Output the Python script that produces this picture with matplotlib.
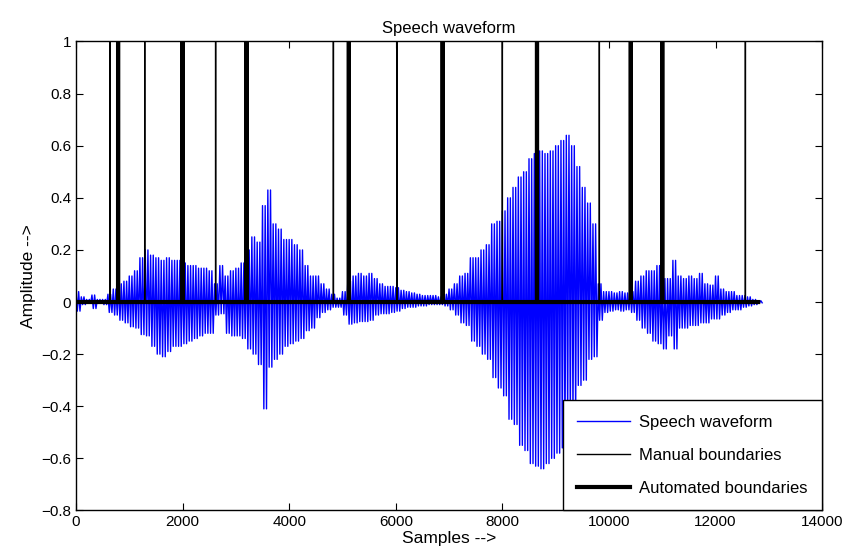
import numpy as np
import matplotlib
matplotlib.use('Agg')
import matplotlib.pyplot as plt

plt.rcParams['font.family'] = ['Liberation Sans', 'DejaVu Sans']

# peak amplitudes of the speech signal, one pair every 100 samples (0 .. 12800)
step = 100
env_hi = [0.04, 0.02, 0.01, 0.027, 0.01, 0.01, 0.03, 0.05, 0.07, 0.08,
          0.10, 0.12, 0.17, 0.20, 0.18, 0.17, 0.16, 0.17, 0.16, 0.16,
          0.15, 0.14, 0.14, 0.13, 0.13, 0.12, 0.07, 0.14, 0.10, 0.12,
          0.13, 0.15, 0.20, 0.25, 0.23, 0.37, 0.43, 0.30, 0.28, 0.24,
          0.24, 0.22, 0.20, 0.14, 0.10, 0.10, 0.07, 0.05, 0.03, 0.015,
          0.04, 0.08, 0.10, 0.11, 0.10, 0.11, 0.09, 0.07, 0.06, 0.06,
          0.055, 0.045, 0.04, 0.035, 0.03, 0.025, 0.025, 0.025, 0.02, 0.03,
          0.05, 0.07, 0.10, 0.11, 0.17, 0.17, 0.20, 0.22, 0.30, 0.31,
          0.35, 0.40, 0.44, 0.48, 0.50, 0.55, 0.57, 0.58, 0.57, 0.58,
          0.60, 0.62, 0.64, 0.60, 0.52, 0.44, 0.38, 0.30, 0.07, 0.04,
          0.04, 0.035, 0.04, 0.035, 0.04, 0.08, 0.10, 0.12, 0.12, 0.14,
          0.09, 0.09, 0.16, 0.10, 0.09, 0.10, 0.09, 0.11, 0.07, 0.065,
          0.10, 0.05, 0.04, 0.04, 0.025, 0.025, 0.02, 0.01, 0.005]
env_lo = [-0.035, -0.01, -0.005, -0.025, -0.005, -0.01, -0.04, -0.05, -0.07, -0.08,
          -0.095, -0.10, -0.125, -0.13, -0.17, -0.20, -0.21, -0.19, -0.17, -0.17,
          -0.16, -0.15, -0.14, -0.13, -0.12, -0.12, -0.05, -0.045, -0.12, -0.13,
          -0.13, -0.14, -0.18, -0.20, -0.24, -0.41, -0.25, -0.22, -0.20, -0.17,
          -0.16, -0.15, -0.14, -0.11, -0.10, -0.06, -0.04, -0.03, -0.02, -0.02,
          -0.05, -0.085, -0.08, -0.075, -0.075, -0.07, -0.05, -0.045, -0.045, -0.04,
          -0.035, -0.025, -0.02, -0.02, -0.015, -0.015, -0.01, -0.01, -0.01, -0.015,
          -0.03, -0.05, -0.08, -0.09, -0.15, -0.17, -0.20, -0.22, -0.29, -0.33,
          -0.36, -0.45, -0.47, -0.55, -0.57, -0.62, -0.63, -0.64, -0.62, -0.60,
          -0.58, -0.56, -0.46, -0.44, -0.32, -0.30, -0.22, -0.21, -0.07, -0.04,
          -0.035, -0.03, -0.035, -0.03, -0.04, -0.07, -0.10, -0.12, -0.15, -0.16,
          -0.18, -0.13, -0.18, -0.10, -0.10, -0.09, -0.09, -0.08, -0.08, -0.065,
          -0.065, -0.05, -0.04, -0.03, -0.03, -0.02, -0.015, -0.01, -0.003]

n_samples = 12800
manual_b = [640, 1290, 2620, 4830, 6020, 8000, 9820, 12560]
auto_b = [790, 2000, 3200, 5120, 6880, 8650, 10410, 11000]


def boundary_trace(bounds, n):
    # zero everywhere except a unit spike at each boundary sample
    xs, ys = [0], [0]
    for b in bounds:
        xs += [b - 1, b, b + 1]
        ys += [0, 1, 0]
    xs.append(n)
    ys.append(0)
    return xs, ys


# waveform: each slot drawn as a vertical swing hi -> lo, then on to the next slot
pos = np.arange(len(env_hi)) * step
wx = np.column_stack([pos, pos + 25, pos + 50, pos + 75]).ravel()
wy = np.column_stack([env_hi, env_lo, env_hi, env_lo]).ravel()

fig = plt.figure(figsize=(8.46, 5.59), dpi=100)
ax = fig.add_axes([0.0898, 0.0868, 0.882, 0.839])

ax.plot(wx, wy, color='#0000ff', lw=1.0, label='Speech waveform')
mx, my = boundary_trace(manual_b, n_samples)
ax.plot(mx, my, color='black', lw=1.0, label='Manual boundaries')
axx, ayy = boundary_trace(auto_b, n_samples)
ax.plot(axx, ayy, color='black', lw=3.0, label='Automated boundaries')

ax.set_xlim(0, 14000)
ax.set_ylim(-0.8, 1)
ax.set_xticks(np.arange(0, 14001, 2000))
ax.set_yticks(np.arange(-0.8, 1.01, 0.2))
ax.set_yticklabels(['\u22120.8', '\u22120.6', '\u22120.4', '\u22120.2', '0',
                    '0.2', '0.4', '0.6', '0.8', '1'])
ax.tick_params(direction='in', top=True, right=True, length=5, labelsize=11, width=0.8)
for s in ax.spines.values():
    s.set_linewidth(1.0)

ax.set_title('Speech waveform', fontsize=12, pad=6)
ax.set_xlabel('Samples -->', fontsize=12.5, labelpad=1)
ax.set_ylabel('Amplitude -->', fontsize=12.5, labelpad=4)

leg = ax.legend(loc='lower right', bbox_to_anchor=(1, 0), borderaxespad=0,
                fancybox=False, framealpha=1, edgecolor='black', fontsize=12,
                handlelength=3.2, labelspacing=1.1, borderpad=0.85, handletextpad=0.55)
leg.get_frame().set_linewidth(1.0)

fig.savefig('out.png', dpi=100)
